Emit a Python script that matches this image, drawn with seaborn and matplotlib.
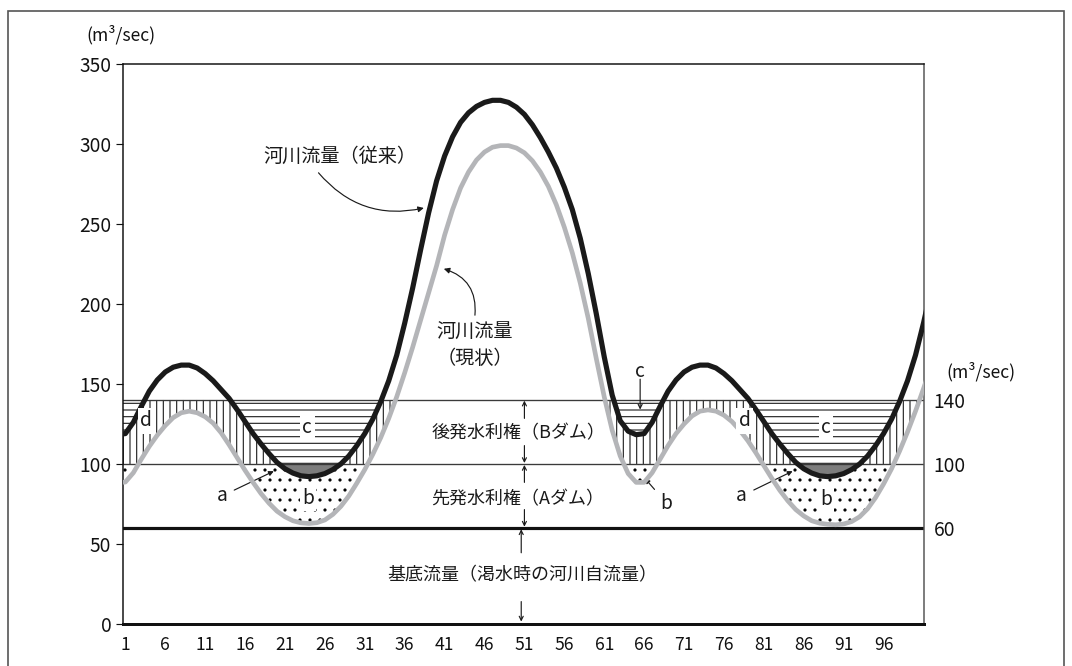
import numpy as np
import matplotlib
matplotlib.use("Agg")
import matplotlib.pyplot as plt
import seaborn as sns
from matplotlib.patches import Rectangle

# ---------------- data ----------------
x_days = list(range(0, 103))
flow_before = [  # 河川流量（従来）
    118.3, 119, 126, 136, 145.5, 152.5, 157.5, 160.5, 161.8, 161.8,
    160, 156.5, 152, 146.5, 141, 134, 126.5, 119, 112.5, 106.5,
    101, 97, 94.3, 92.6, 92.1, 92.6, 94, 96.5, 100, 105,
    111.5, 119, 128, 139, 152, 168, 188, 210, 234, 257,
    277, 292.5, 304.5, 313.5, 319.5, 323.5, 326, 327.3, 327.3, 326,
    323, 318.5, 312, 304, 295, 285, 273, 259, 241, 219,
    194, 167, 143, 127, 120.5, 118.3, 119, 126, 136, 145.5,
    152.5, 157.5, 160.5, 161.8, 161.8, 160, 156.5, 152, 146.5, 141,
    134, 126.5, 119, 112.5, 106.5, 101, 97, 94.3, 92.6, 92.1,
    92.6, 94, 96.5, 100, 105, 111.5, 119, 128, 139, 152,
    168, 188, 210]
flow_now = [  # 河川流量（現状）
    88.3, 88.7, 94.5, 103, 111, 118, 124, 129, 132, 133,
    132, 129.5, 125.5, 119.5, 112, 104, 96, 88.5, 81.5, 75.5,
    70.5, 67, 64.5, 63.2, 62.8, 63.3, 65, 68.5, 73.5, 80,
    88, 96.5, 106, 116.5, 128.5, 142, 157, 173, 190, 207,
    224, 243, 259, 272.5, 282.5, 290, 295, 298, 299, 299,
    297.5, 294.5, 289.5, 282.5, 273.5, 262, 248, 232, 213, 191,
    166, 142, 121, 105, 94, 88.5, 88.5, 94.5, 103, 111.5,
    119, 125, 130, 133, 133.8, 133, 130.5, 126.5, 121, 114.5,
    107, 99, 91, 83.5, 77, 71.5, 67.5, 64.5, 63, 62.3,
    62, 62.5, 64, 67, 72, 79, 87.5, 97, 108, 120,
    133, 147, 162]

x_tick_values = list(range(1, 97, 5))
x_tick_labels = [str(v) for v in x_tick_values]
y_tick_values = [0, 50, 100, 150, 200, 250, 300, 350]
right_tick_values = [60, 100, 140]
right_tick_labels = ["60", "100", "140"]
level_base = 60
level_a = 100
level_b = 140

# ---------------- style ----------------
sns.set_style("white")
plt.rcParams['font.family'] = ['Noto Sans CJK JP', 'DejaVu Sans']
plt.rcParams['hatch.linewidth'] = 0.7

DPI = 120
fig = plt.figure(figsize=(1072 / DPI, 666 / DPI), dpi=DPI)
ax = fig.add_axes([0.1147, 0.0631, 0.7475, 0.8408])
ax.set_xlim(0.7, 101.1)
ax.set_ylim(0, 350)

xs = np.array(x_days, dtype=float)
bl = np.array(flow_before, dtype=float)
gr = np.array(flow_now, dtype=float)

# fine grid of the same polylines for the shaded regions
xf = np.linspace(xs[0], xs[-1], 4000)
bf = np.interp(xf, xs, bl)
gf = np.interp(xf, xs, gr)

hatch_col = '#262626'
# c : above the former flow, inside the B-dam band (horizontal hatch)
ax.fill_between(xf, np.clip(bf, level_a, level_b), level_b, where=bf < level_b,
                facecolor='none', edgecolor=hatch_col, hatch='---', linewidth=0, zorder=1)
# d : between current and former flow inside the B band (vertical hatch)
lo_d = np.clip(gf, level_a, level_b)
hi_d = np.clip(bf, level_a, level_b)
ax.fill_between(xf, lo_d, hi_d, where=hi_d > lo_d,
                facecolor='none', edgecolor=hatch_col, hatch='|||', linewidth=0, zorder=1)
# a : former flow below 100
ax.fill_between(xf, bf, level_a, where=bf < level_a,
                facecolor='#7d7d7d', edgecolor='none', linewidth=0, zorder=1)
# b : current flow below min(former, 100) (dots)
top_b = np.minimum(bf, level_a)
ax.fill_between(xf, gf, top_b, where=gf < top_b,
                facecolor='none', edgecolor='#000000', hatch='..', linewidth=0, zorder=1)

# reference levels
ax.axhline(level_b, color='#3a3a3a', lw=0.8, zorder=2)
ax.axhline(level_a, color='#3a3a3a', lw=0.8, zorder=2)
ax.axhline(level_base, color='#111111', lw=1.9, zorder=2)

# flow curves
sns.lineplot(x=xs, y=gr, ax=ax, color='#b4b5b8', linewidth=2.8, zorder=4, legend=False)
sns.lineplot(x=xs, y=bl, ax=ax, color='#1a1a1a', linewidth=3.1, zorder=5, legend=False)

# ---------------- axes ----------------
for s in ['left', 'top']:
    ax.spines[s].set_linewidth(0.9)
    ax.spines[s].set_color('#111111')
ax.spines['right'].set_linewidth(0.9)
ax.spines['right'].set_color('#555555')
ax.spines['bottom'].set_linewidth(1.8)
ax.spines['bottom'].set_color('#111111')

ax.set_xticks(x_tick_values, x_tick_labels)
ax.set_yticks(y_tick_values)
ax.tick_params(axis='x', direction='in', length=3.5, width=0.7, pad=7,
               labelsize=10.5, colors='#111111')
ax.tick_params(axis='y', direction='out', length=4, width=0.7, pad=3,
               labelsize=11.5, colors='#111111', left=True)
ax.set_xlabel('')
ax.set_ylabel('')

ax2 = ax.twinx()
ax2.set_ylim(0, 350)
ax2.set_yticks(right_tick_values, right_tick_labels)
ax2.tick_params(axis='y', length=0, pad=5.5, labelsize=11.5, colors='#111111')
for s in ax2.spines.values():
    s.set_visible(False)

# unit labels
ytr = ax.get_yaxis_transform()
ax.text(-0.003, 368, '(m³/sec)', transform=ytr, ha='center', va='center',
        fontsize=10.5, color='#111111', clip_on=False)
ax.text(1.0707, 157.7, '(m³/sec)', transform=ytr, ha='center', va='center',
        fontsize=10.5, color='#111111', clip_on=False)

# ---------------- annotations ----------------
tc = '#1a1a1a'
ax.text(27.9, 292, '河川流量（従来）', ha='center', va='center', fontsize=11.5, color=tc, zorder=6)
ax.annotate('', xy=(38.4, 260), xytext=(25.2, 282),
            arrowprops=dict(arrowstyle='-|>', color=tc, lw=0.7, mutation_scale=7,
                            shrinkA=0, shrinkB=0, connectionstyle='arc3,rad=0.3'))
ax.text(44.8, 174, '河川流量\n（現状）', ha='center', va='center', fontsize=11.5,
        color=tc, linespacing=1.3, zorder=6)
ax.annotate('', xy=(40.9, 222), xytext=(44.8, 193),
            arrowprops=dict(arrowstyle='-|>', color=tc, lw=0.7, mutation_scale=7,
                            shrinkA=0, shrinkB=0, connectionstyle='arc3,rad=0.4'))

ax.text(50.2, 119, '後発水利権（Bダム）', ha='center', va='center', fontsize=10.8, color=tc, zorder=6)
ax.text(50.2, 78, '先発水利権（Aダム）', ha='center', va='center', fontsize=10.8, color=tc, zorder=6)
ax.text(50.7, 30.6, '基底流量（渇水時の河川自流量）', ha='center', va='center', fontsize=10.8,
        color=tc, zorder=6)

varrows = [((51, 128.5), (51, 139.6)), ((51, 111.5), (51, 100.6)),
           ((51, 88.5), (51, 99.4)), ((51, 71.5), (51, 60.8)),
           ((50.6, 44.5), (50.6, 59.2)), ((50.6, 14), (50.6, 1.5))]
for (x0, y0), (x1, y1) in varrows:
    ax.annotate('', xy=(x1, y1), xytext=(x0, y0),
                arrowprops=dict(arrowstyle='->', color=tc, lw=0.7, mutation_scale=6,
                                shrinkA=0, shrinkB=0))

wb = dict(boxstyle='square,pad=0.12', facecolor='white', edgecolor='none')
for (cx, cy) in [(23.8, 123), (88.8, 123)]:
    ax.text(cx, cy, 'c', ha='center', va='center', fontsize=11.5, color=tc, bbox=wb, zorder=6)
for (cx, cy) in [(3.6, 127), (78.6, 127)]:
    ax.text(cx, cy, 'd', ha='center', va='center', fontsize=11.5, color=tc, bbox=wb, zorder=6)
for (cx, cy) in [(23.9, 78.5), (88.8, 78)]:
    ax.text(cx, cy, 'b', ha='center', va='center', fontsize=11.5, color=tc, bbox=wb, zorder=6)

ax.text(65.5, 158, 'c', ha='center', va='center', fontsize=11.5, color=tc, zorder=6)
ax.annotate('', xy=(65.5, 134), xytext=(65.5, 153),
            arrowprops=dict(arrowstyle='->', color=tc, lw=0.7, mutation_scale=6,
                            shrinkA=0, shrinkB=0))
for (tx, ty), (px, py) in [((13.1, 80), (19.6, 95.5)), ((78.2, 80), (84.6, 95.5))]:
    ax.annotate('a', xy=(px, py), xytext=(tx, ty), ha='center', va='center',
                fontsize=11.5, color=tc,
                arrowprops=dict(arrowstyle='-|>', color=tc, lw=0.7, mutation_scale=6,
                                shrinkA=2, shrinkB=0))
ax.annotate('b', xy=(66.1, 91), xytext=(68.8, 75.5), ha='center', va='center',
            fontsize=11.5, color=tc,
            arrowprops=dict(arrowstyle='-|>', color=tc, lw=0.7, mutation_scale=6,
                            shrinkA=2, shrinkB=0))

# outer frame
fig.patches.append(Rectangle((8 / 1072, -0.05), (1064 - 8) / 1072, (666 - 10.7) / 666 + 0.05,
                             transform=fig.transFigure, fill=False,
                             edgecolor='#555555', linewidth=1.0))

fig.savefig('out.png', dpi=DPI)
